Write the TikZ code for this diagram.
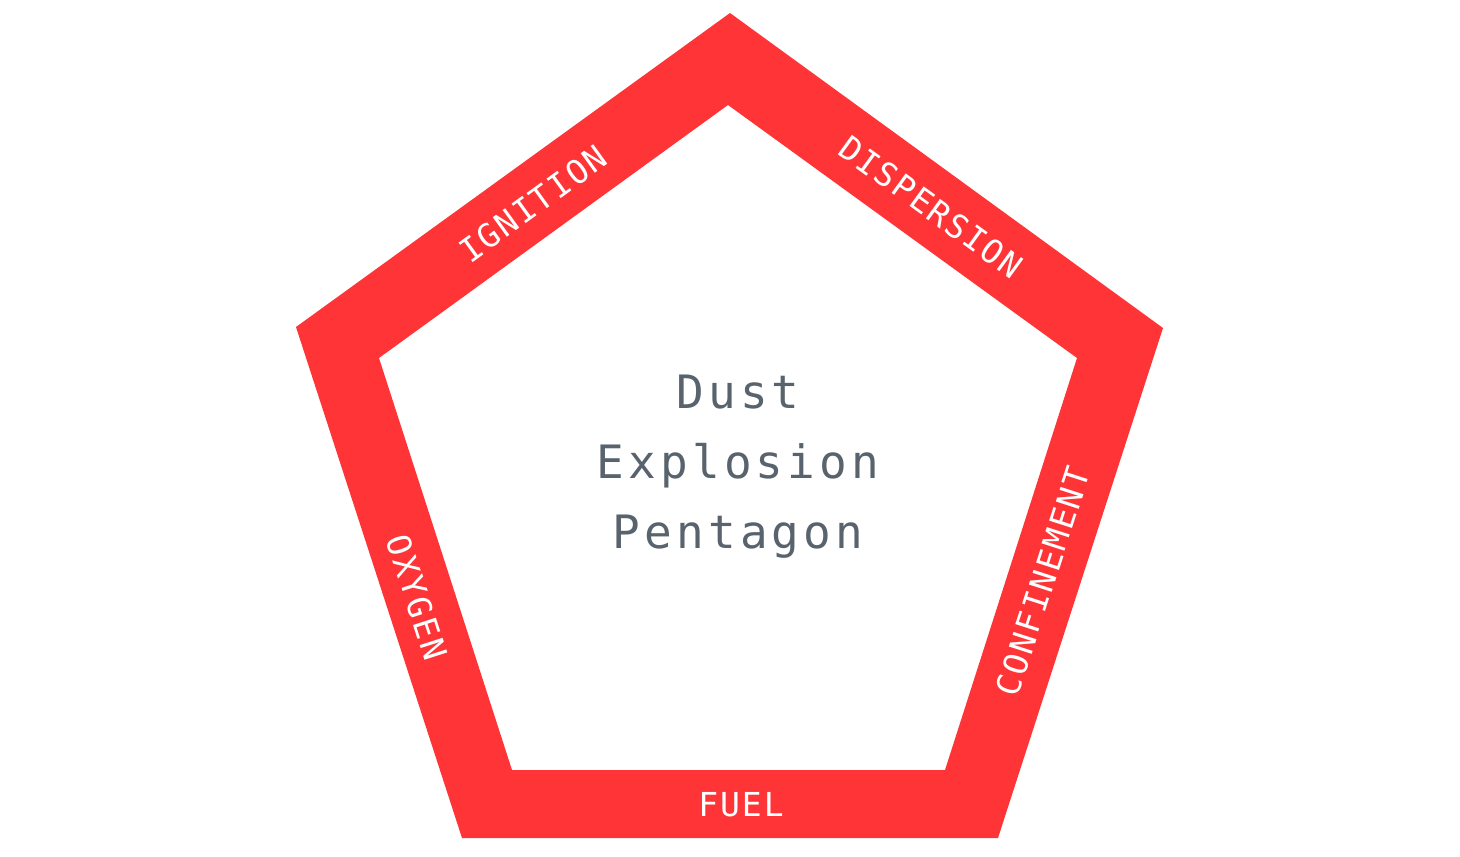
\documentclass[tikz,border=0pt]{standalone}
\usepackage{fontspec}
\newfontfamily\centerfont[LetterSpace=9]{DejaVu Sans Mono}
\newfontfamily\labelfont[LetterSpace=6]{DejaVu Sans Mono}
\definecolor{pentred}{HTML}{FF3437}
\definecolor{textgray}{HTML}{59636D}
\begin{document}
\begin{tikzpicture}[x=1pt,y=-1pt,
  edgelabel/.style={text=white,font=\labelfont\fontsize{33}{33}\selectfont,inner sep=0pt,anchor=center},
  title/.style={text=textgray,font=\centerfont\fontsize{46}{70}\selectfont,align=center,inner sep=0pt}]
\useasboundingbox (0,0) rectangle (1460,857);
% outer vertices
\coordinate (o1) at (730,13);
\coordinate (o2) at (1163,328);
\coordinate (o3) at (998,838);
\coordinate (o4) at (462,838);
\coordinate (o5) at (296,327);
% inner vertices
\coordinate (i1) at (728,105);
\coordinate (i2) at (1077,358);
\coordinate (i3) at (945,770);
\coordinate (i4) at (512,770);
\coordinate (i5) at (379,358);
\fill[pentred,even odd rule] (o1) -- (o2) -- (o3) -- (o4) -- (o5) -- cycle
  (i1) -- (i2) -- (i3) -- (i4) -- (i5) -- cycle;
\node[title] (center) at (738,467) {Dust\\Explosion\\Pentagon};
\node[edgelabel,rotate=35.9] (ign) at (533,204) {IGNITION};
\node[edgelabel,rotate=-35.9] (disp) at (931,207) {DISPERSION};
\node[edgelabel,rotate=72.1] (conf) at (1043,581) {CONFINEMENT};
\node[edgelabel,rotate=-72.1] (oxy) at (417,597) {OXYGEN};
\node[edgelabel] (fuel) at (741,805) {FUEL};
\end{tikzpicture}
\end{document}
